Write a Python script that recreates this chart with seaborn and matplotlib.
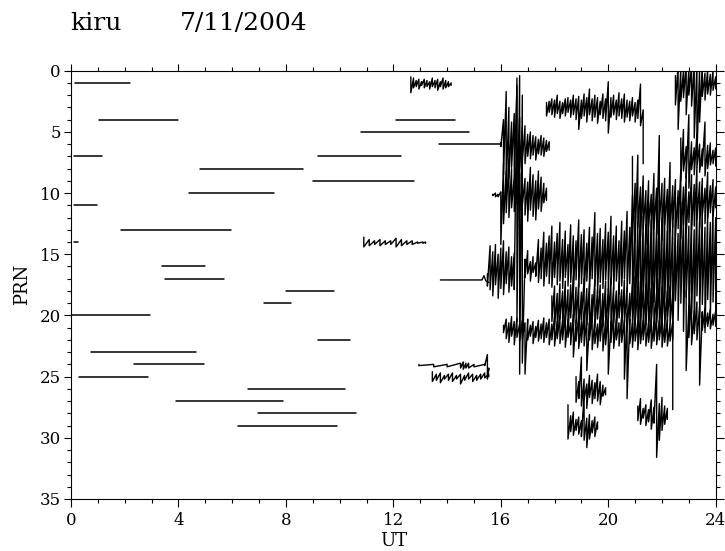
import matplotlib
matplotlib.use("Agg")
import matplotlib.pyplot as plt
from matplotlib.ticker import MultipleLocator
import seaborn as sns
import pandas as pd

# quiet satellite passes: PRN, start and end time (UT hours)
quiet_prn = [1, 4, 7, 8, 10, 11, 13, 14, 16, 17, 20, 23, 24, 25, 27, 29, 26, 28,
             19, 18, 22, 7, 9, 4, 5, 6]
quiet_start = [0.15, 1.05, 0.1, 4.8, 4.4, 0.1, 1.85, 0.1, 3.4, 3.5, 0.0, 0.75, 2.35,
               0.3, 3.9, 6.2, 6.6, 6.95, 7.2, 8.0, 9.2, 9.2, 9.0, 12.1, 10.8, 13.7]
quiet_end = [2.2, 4.0, 1.15, 8.65, 7.55, 0.95, 5.95, 0.25, 5.0, 5.7, 2.95, 4.65, 4.95,
             2.85, 7.9, 9.9, 10.2, 10.6, 8.2, 9.8, 10.4, 12.3, 12.75, 14.3, 14.8, 16.0]

# passes with visible scintillation: sample times with lower/upper extent of the trace
p01b_ut = [12.65, 12.75, 12.85, 12.95, 13.05, 13.15, 13.25, 13.35, 13.45, 13.55,
           13.65, 13.75, 13.85, 13.95, 14.05, 14.15]
p01b_lo = [0.5, 0.6, 0.8, 0.7, 0.9, 0.7, 0.8, 0.9, 0.6, 0.8, 0.7, 0.9, 0.6, 0.8, 0.9, 1.0]
p01b_hi = [1.8, 1.4, 1.3, 1.5, 1.2, 1.4, 1.3, 1.5, 1.3, 1.4, 1.6, 1.3, 1.5, 1.4, 1.3, 1.2]

p14b_ut = [10.9, 11.1, 11.3, 11.5, 11.7, 11.9, 12.1, 12.3, 12.5, 12.7, 12.9, 13.1, 13.2]
p14b_lo = [13.6, 13.8, 13.9, 13.8, 13.9, 13.9, 13.7, 13.8, 13.9, 13.9, 14.0, 14.0, 14.0]
p14b_hi = [14.4, 14.3, 14.2, 14.3, 14.2, 14.2, 14.4, 14.3, 14.2, 14.2, 14.1, 14.1, 14.1]

p17b_ut = [13.75, 14.5, 15.3, 15.37, 15.45, 15.55]
p17b_lo = [17.1, 17.1, 17.1, 16.75, 17.2, 17.3]
p17b_hi = [17.1, 17.1, 17.1, 16.75, 17.2, 17.3]

p24b_ut = [12.95, 13.5, 14.0, 14.5, 14.6, 14.7, 14.8, 15.0, 15.4, 15.5, 15.55]
p24b_lo = [24.0, 24.0, 24.0, 23.9, 23.8, 23.9, 23.9, 24.0, 24.0, 23.2, 24.3]
p24b_hi = [24.1, 24.2, 24.2, 24.3, 24.4, 24.3, 24.3, 24.2, 24.1, 25.2, 24.5]

p25b_ut = [13.45, 13.6, 13.75, 13.9, 14.05, 14.2, 14.35, 14.5, 14.65, 14.8, 14.95,
           15.1, 15.25, 15.4, 15.55]
p25b_lo = [24.6, 24.8, 24.7, 24.9, 24.8, 24.7, 24.9, 24.8, 24.9, 24.7, 24.8, 24.9,
           24.8, 24.7, 24.8]
p25b_hi = [25.4, 25.3, 25.5, 25.2, 25.3, 25.4, 25.2, 25.6, 25.3, 25.2, 25.4, 25.3,
           25.2, 25.1, 25.0]

p06_ut = [16.0, 16.1, 16.2, 16.3, 16.4, 16.5, 16.6, 16.7, 16.8, 16.9, 17.0, 17.1,
          17.2, 17.3, 17.4, 17.5, 17.6, 17.7, 17.8]
p06_lo = [5.9, 4.0, 1.7, 3.0, 4.2, 3.5, 1.2, 3.8, 4.6, 4.5, 5.2, 5.0, 5.3, 5.4, 5.6,
          5.3, 5.5, 5.7, 5.8]
p06_hi = [6.2, 8.5, 9.5, 8.8, 7.9, 8.6, 9.0, 8.0, 7.4, 7.6, 7.0, 7.2, 6.9, 7.3, 6.8,
          6.9, 7.0, 6.6, 6.5]

p10_ut = [15.7, 15.8, 15.9, 16.0, 16.1, 16.2, 16.3, 16.4, 16.5, 16.6, 16.7, 16.8,
          16.9, 17.0, 17.1, 17.2, 17.3, 17.4, 17.5, 17.6, 17.7]
p10_lo = [10.1, 10.0, 10.1, 9.9, 7.5, 8.2, 7.2, 8.0, 8.6, 9.0, 8.4, 9.3, 8.8, 9.1,
          7.9, 8.5, 9.0, 8.2, 8.7, 9.2, 9.6]
p10_hi = [10.2, 10.3, 10.3, 14.2, 12.5, 11.6, 12.0, 11.2, 11.5, 10.9, 11.6, 11.0,
          11.8, 12.3, 11.4, 11.9, 12.2, 11.3, 11.5, 10.8, 10.6]

p03_ut = [17.7, 17.8, 17.9, 18.0, 18.1, 18.2, 18.3, 18.4, 18.5, 18.6, 18.7, 18.8,
          18.9, 19.0, 19.1, 19.2, 19.3, 19.4, 19.5, 19.6, 19.7, 19.8, 19.9, 20.0,
          20.1, 20.2, 20.3, 20.4, 20.5, 20.6, 20.7, 20.8, 20.9, 21.0, 21.1, 21.2, 21.3]
p03_lo = [2.6, 2.5, 2.3, 2.4, 2.0, 2.5, 2.6, 2.3, 2.2, 2.4, 2.0, 2.3, 2.1, 2.4, 1.9,
          2.2, 1.5, 2.3, 2.0, 2.2, 2.5, 1.9, 2.3, 0.9, 2.2, 2.0, 2.4, 1.8, 2.3, 1.9,
          2.4, 2.5, 2.2, 2.6, 2.4, 1.1, 3.2]
p03_hi = [3.7, 3.4, 3.6, 3.8, 3.5, 3.9, 3.5, 3.7, 3.4, 3.8, 3.6, 4.0, 4.8, 3.9, 3.7,
          4.2, 3.6, 4.1, 3.8, 4.3, 3.6, 3.9, 4.1, 5.1, 3.8, 3.6, 4.0, 3.7, 3.9, 4.2,
          3.8, 4.1, 3.7, 4.2, 3.9, 4.5, 7.6]

p01_ut = [22.5, 22.6, 22.7, 22.8, 22.9, 23.0, 23.1, 23.2, 23.3, 23.4, 23.5, 23.6,
          23.7, 23.8, 23.9, 24.0]
p01_lo = [0.4, -0.5, -0.3, 0.0, -0.5, -0.2, -0.5, -0.4, -0.5, -0.3, -0.5, 0.2, -0.1,
          0.3, 0.0, 0.5]
p01_hi = [2.8, 4.8, 2.5, 2.2, 3.6, 2.0, 2.9, 5.5, 7.0, 4.2, 2.1, 2.4, 1.9, 2.0, 1.6, 1.5]

p07_ut = [22.7, 22.8, 22.9, 23.0, 23.1, 23.2, 23.3, 23.4, 23.5, 23.6, 23.7, 23.8,
          23.9, 24.0]
p07_lo = [5.5, 4.8, 6.2, 3.6, 5.8, 6.3, 5.1, 6.0, 6.4, 4.2, 6.1, 5.9, 6.5, 6.3]
p07_hi = [9.0, 8.2, 8.8, 9.6, 8.1, 8.5, 7.9, 8.3, 7.8, 8.6, 8.0, 7.7, 7.6, 7.8]

p11_ut = [20.9, 21.0, 21.1, 21.2, 21.3, 21.4, 21.5, 21.6, 21.7, 21.8, 21.9, 22.0,
          22.1, 22.2, 22.3, 22.4, 22.5, 22.6, 22.7, 22.8, 22.9, 23.0, 23.1, 23.2,
          23.3, 23.4, 23.5, 23.6, 23.7, 23.8, 23.9, 24.0]
p11_lo = [7.0, 9.2, 6.9, 9.5, 8.6, 9.8, 9.0, 10.1, 8.4, 9.6, 5.3, 9.2, 8.8, 9.7, 7.5,
          9.4, 8.9, 9.8, 8.1, 9.5, 8.7, 9.9, 8.5, 9.3, 7.9, 9.1, 8.8, 9.6, 8.3, 9.4,
          8.9, 9.5]
p11_hi = [13.5, 14.0, 12.8, 13.6, 12.9, 14.2, 12.7, 13.8, 12.9, 13.4, 12.5, 13.9,
          12.6, 14.1, 13.2, 12.8, 13.5, 12.9, 13.7, 12.6, 13.3, 12.4, 13.0, 12.7,
          12.2, 12.9, 11.8, 12.5, 12.1, 11.6, 11.9, 11.2]

p16_ut = [15.5, 15.6, 15.7, 15.8, 15.9, 16.0, 16.1, 16.2, 16.3, 16.4, 16.5, 16.6,
          16.7, 16.8, 16.9, 17.0, 17.1, 17.2, 17.3, 17.4, 17.5, 17.6, 17.7, 17.8,
          17.9, 18.0, 18.1, 18.2, 18.3, 18.4, 18.5, 18.6, 18.7, 18.8, 18.9, 19.0,
          19.1, 19.2, 19.3, 19.4, 19.5, 19.6, 19.7, 19.8, 19.9, 20.0, 20.1, 20.2,
          20.3, 20.4, 20.5, 20.6, 20.7, 20.8, 20.9, 21.0, 21.1, 21.2, 21.3, 21.4,
          21.5, 21.6, 21.7, 21.8, 21.9, 22.0, 22.1, 22.2, 22.3, 22.4, 22.5, 22.6,
          22.7, 22.8, 22.9, 23.0, 23.1, 23.2, 23.3, 23.4, 23.5, 23.6, 23.7, 23.8,
          23.9, 24.0]
p16_lo = [16.6, 14.3, 14.8, 14.2, 15.0, 14.5, 13.9, 14.8, 14.4, 15.2, 14.9, 0.6,
          0.4, 2.0, 15.4, 14.7, 15.6, 15.2, 15.7, 13.8, 14.5, 13.2, 14.1, 13.5,
          12.7, 14.0, 13.3, 12.4, 13.8, 13.1, 14.2, 12.6, 13.5, 13.9, 12.2, 13.4,
          13.0, 14.1, 12.8, 13.6, 11.6, 13.3, 12.9, 13.8, 12.5, 13.2, 11.9, 13.5,
          12.7, 13.9, 12.3, 13.1, 11.5, 12.8, 10.2, 11.8, 12.4, 10.5, 11.9, 12.6,
          10.8, 12.2, 11.3, 12.9, 10.6, 12.0, 11.4, 13.1, 10.9, 12.5, 11.7, 13.3,
          10.7, 12.1, 11.0, 12.7, 11.6, 13.0, 10.4, 12.3, 11.2, 12.8, 11.5, 12.4,
          11.1, 12.0]
p16_hi = [17.6, 17.9, 18.4, 17.5, 18.6, 17.8, 18.3, 17.4, 18.1, 17.6, 17.9, 20.5,
          24.8, 23.9, 16.9, 16.6, 17.2, 16.5, 16.8, 17.3, 17.0, 17.6, 16.8, 17.4,
          17.7, 16.9, 17.5, 17.2, 17.8, 16.9, 17.6, 17.3, 18.0, 17.1, 17.7, 17.4,
          18.1, 17.2, 17.9, 17.0, 17.6, 18.2, 17.3, 17.8, 17.1, 18.0, 17.5, 17.9,
          17.2, 18.3, 17.6, 17.0, 18.1, 17.4, 19.5, 20.8, 19.2, 21.6, 18.7, 20.3,
          19.6, 21.2, 18.9, 20.1, 19.4, 21.5, 18.6, 20.7, 19.3, 22.0, 18.8, 20.4,
          19.0, 21.3, 18.5, 20.6, 19.8, 21.0, 18.4, 20.2, 19.1, 21.4, 18.7, 19.9,
          18.9, 19.6]

p19_ut = [17.9, 18.0, 18.1, 18.2, 18.3, 18.4, 18.5, 18.6, 18.7, 18.8, 18.9, 19.0,
          19.1, 19.2, 19.3, 19.4, 19.5, 19.6, 19.7, 19.8, 19.9, 20.0, 20.1, 20.2,
          20.3, 20.4, 20.5, 20.6, 20.7, 20.8, 20.9, 21.0, 21.1, 21.2, 21.3, 21.4,
          21.5, 21.6, 21.7, 21.8, 21.9, 22.0, 22.1, 22.2, 22.3, 22.4]
p19_lo = [18.4, 17.6, 18.2, 17.4, 18.0, 17.2, 17.9, 17.5, 16.8, 17.7, 17.3, 18.1,
          17.0, 17.8, 17.4, 18.3, 17.1, 17.9, 17.5, 18.2, 17.2, 17.8, 16.9, 17.6,
          18.0, 17.3, 17.9, 17.1, 17.7, 18.2, 17.4, 16.8, 17.6, 17.2, 18.0, 17.5,
          16.9, 17.8, 17.3, 18.1, 17.0, 17.7, 17.4, 18.0, 17.6, 18.2]
p19_hi = [20.5, 20.9, 21.4, 20.3, 21.1, 20.6, 21.5, 20.2, 21.0, 20.7, 21.3, 20.4,
          21.2, 20.8, 21.6, 20.5, 21.0, 20.3, 21.4, 20.9, 21.2, 20.4, 21.1, 20.6,
          21.5, 20.2, 21.0, 20.7, 21.3, 20.5, 21.1, 20.6, 21.4, 20.3, 21.0, 20.8,
          21.2, 20.4, 21.0, 20.6, 21.3, 20.5, 20.9, 20.2, 20.7, 20.0]

p21_ut = [16.1, 16.2, 16.3, 16.4, 16.5, 16.6, 16.7, 16.8, 16.9, 17.0, 17.1, 17.2,
          17.3, 17.4, 17.5, 17.6, 17.7, 17.8, 17.9, 18.0, 18.1, 18.2, 18.3, 18.4,
          18.5, 18.6, 18.7, 18.8, 18.9, 19.0, 19.1, 19.2, 19.3, 19.4, 19.5, 19.6,
          19.7, 19.8, 19.9, 20.0, 20.1, 20.2, 20.3, 20.4, 20.5, 20.6, 20.7, 20.8,
          20.9, 21.0, 21.1, 21.2, 21.3, 21.4, 21.5, 21.6, 21.7, 21.8, 21.9, 22.0,
          22.1, 22.2, 22.3, 22.4]
p21_lo = [20.8, 20.3, 20.6, 20.1, 20.5, 20.2, 20.7, 20.4, 20.6, 20.3, 20.8, 20.5,
          20.9, 20.4, 20.7, 20.2, 20.6, 20.3, 20.7, 20.1, 20.5, 20.0, 20.4, 19.8,
          20.3, 20.6, 19.9, 20.4, 20.0, 20.5, 19.7, 20.2, 20.6, 19.9, 20.3, 20.7,
          20.1, 19.8, 20.4, 20.0, 20.5, 19.9, 20.3, 20.6, 20.0, 20.4, 19.8, 20.3,
          20.6, 20.1, 20.5, 19.9, 20.4, 20.0, 20.6, 20.2, 20.5, 20.0, 20.4, 20.1,
          20.6, 20.3, 20.7, 20.5]
p21_hi = [21.4, 21.9, 22.2, 21.7, 22.4, 21.8, 22.1, 21.9, 24.8, 22.0, 21.7, 22.3,
          21.8, 22.1, 21.9, 22.2, 21.8, 22.4, 22.0, 22.5, 21.9, 22.3, 22.0, 22.6,
          21.8, 22.4, 23.4, 22.1, 22.7, 22.2, 22.5, 24.5, 22.0, 22.8, 22.3, 22.6,
          22.1, 22.9, 22.4, 24.8, 22.2, 22.7, 22.0, 22.5, 22.2, 25.2, 26.8, 22.3,
          22.6, 22.1, 22.8, 22.3, 22.0, 22.5, 22.2, 22.7, 22.1, 22.4, 22.0, 22.6,
          22.2, 22.5, 22.1, 27.7]

p20_ut = [22.9, 23.0, 23.1, 23.2, 23.3, 23.4, 23.5, 23.6, 23.7, 23.8, 23.9, 24.0]
p20_lo = [18.0, 19.2, 18.5, 19.6, 18.9, 19.3, 19.7, 19.4, 19.8, 19.5, 19.9, 19.6]
p20_hi = [24.5, 21.8, 22.4, 21.5, 22.0, 25.7, 21.2, 21.0, 20.9, 21.1, 20.8, 20.9]

p26_ut = [18.8, 18.9, 19.0, 19.1, 19.2, 19.3, 19.4, 19.5, 19.6, 19.7, 19.8, 19.9]
p26_lo = [25.0, 25.4, 23.4, 25.2, 25.6, 24.9, 25.3, 25.5, 24.8, 25.4, 25.7, 25.9]
p26_hi = [27.1, 26.8, 27.4, 26.9, 27.6, 26.7, 27.2, 26.8, 27.0, 27.3, 26.6, 26.5]

p29_ut = [18.5, 18.6, 18.7, 18.8, 18.9, 19.0, 19.1, 19.2, 19.3, 19.4, 19.5, 19.6]
p29_lo = [27.3, 28.2, 27.9, 28.5, 28.3, 28.6, 26.5, 28.4, 28.1, 28.6, 28.3, 28.7]
p29_hi = [30.1, 29.5, 29.8, 29.4, 29.7, 29.9, 30.2, 30.8, 30.1, 29.6, 29.9, 29.3]

p28_ut = [21.1, 21.2, 21.3, 21.4, 21.5, 21.6, 21.7, 21.8, 21.9, 22.0, 22.1, 22.2]
p28_lo = [27.4, 26.8, 27.6, 27.3, 27.7, 26.9, 27.5, 24.0, 27.2, 26.7, 27.4, 27.6]
p28_hi = [28.6, 28.9, 28.4, 29.0, 28.7, 29.3, 28.8, 31.6, 30.2, 29.4, 28.9, 28.5]

x_ticks = [0, 4, 8, 12, 16, 20, 24]
y_ticks = [0, 5, 10, 15, 20, 25, 30, 35]

# ---- build long tables for seaborn ----
quiet_rows = []
for k, (p, t0, t1) in enumerate(zip(quiet_prn, quiet_start, quiet_end)):
    quiet_rows.append({"trace": k, "ut": t0, "prn": p})
    quiet_rows.append({"trace": k, "ut": t1, "prn": p})
quiet_df = pd.DataFrame(quiet_rows)

noisy = [
    (p01b_ut, p01b_lo, p01b_hi), (p14b_ut, p14b_lo, p14b_hi),
    (p17b_ut, p17b_lo, p17b_hi), (p24b_ut, p24b_lo, p24b_hi),
    (p25b_ut, p25b_lo, p25b_hi), (p06_ut, p06_lo, p06_hi),
    (p10_ut, p10_lo, p10_hi), (p03_ut, p03_lo, p03_hi),
    (p01_ut, p01_lo, p01_hi), (p07_ut, p07_lo, p07_hi),
    (p11_ut, p11_lo, p11_hi), (p16_ut, p16_lo, p16_hi),
    (p19_ut, p19_lo, p19_hi), (p21_ut, p21_lo, p21_hi),
    (p20_ut, p20_lo, p20_hi), (p26_ut, p26_lo, p26_hi),
    (p29_ut, p29_lo, p29_hi), (p28_ut, p28_lo, p28_hi),
]
noisy_rows = []
for k, (ut, lo, hi) in enumerate(noisy):
    # trace swings between its lower and upper extent at every sample
    for t, a, b in zip(ut, lo, hi):
        noisy_rows.append({"trace": k, "ut": t, "prn": a})
        noisy_rows.append({"trace": k, "ut": t, "prn": b})
noisy_df = pd.DataFrame(noisy_rows)

# ---- plot ----
sns.set_style("ticks")
plt.rcParams["font.family"] = ["DejaVu Serif"]
plt.rcParams["text.color"] = "black"
plt.rcParams["axes.labelcolor"] = "black"
plt.rcParams["xtick.color"] = "black"
plt.rcParams["ytick.color"] = "black"

fig = plt.figure(figsize=(7.25, 5.51), dpi=100)
ax = fig.add_axes([0.098, 0.0944, 0.8892, 0.7773])

sns.lineplot(data=quiet_df, x="ut", y="prn", units="trace", estimator=None,
             sort=False, color="black", lw=1.1, legend=False, ax=ax)
sns.lineplot(data=noisy_df, x="ut", y="prn", units="trace", estimator=None,
             sort=False, color="black", lw=1.0, legend=False, ax=ax)

ax.set_xlim(0, 24)
ax.set_ylim(35, 0)
ax.set_xticks(x_ticks)
ax.set_yticks(y_ticks)
ax.xaxis.set_minor_locator(MultipleLocator(1))
ax.yaxis.set_minor_locator(MultipleLocator(1))
ax.tick_params(which="both", direction="out", top=True, right=True,
               labeltop=False, labelright=False, width=0.8, colors="black",
               labelsize=12)
ax.tick_params(which="major", length=5.4)
ax.tick_params(which="minor", length=2.9)
ax.tick_params(axis="y", pad=2)
ax.tick_params(axis="x", pad=4)
for s in ax.spines.values():
    s.set_visible(True)
    s.set_linewidth(0.8)
    s.set_color("black")

ax.set_xlabel("UT", fontsize=13, labelpad=2, color="black")
ax.set_ylabel("PRN", fontsize=13, labelpad=6, color="black")

fig.text(70 / 725, 1 - 30 / 551, "kiru", fontsize=18, va="baseline")
fig.text(180 / 725, 1 - 30 / 551, "7/11/2004", fontsize=18, va="baseline")

fig.savefig("out.png", dpi=100, facecolor="white")
